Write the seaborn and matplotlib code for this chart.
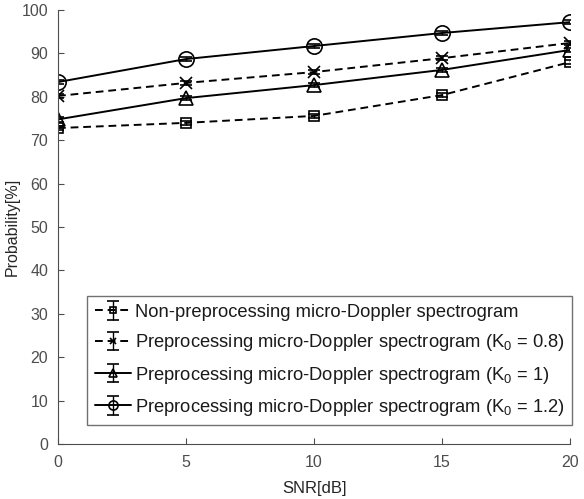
import numpy as np
import pandas as pd
import seaborn as sns
import matplotlib
matplotlib.use("Agg")
import matplotlib.pyplot as plt

snr = [0, 5, 10, 15, 20]
non_pre = [72.8, 74.0, 75.6, 80.4, 88.0]
pre_08 = [80.2, 83.2, 85.7, 88.9, 92.4]
pre_1 = [74.8, 79.7, 82.7, 86.2, 90.8]
pre_12 = [83.4, 88.7, 91.7, 94.7, 97.2]
err = [0.5, 0.5, 0.5, 0.5, 0.5]

labels = [
    "Non-preprocessing micro-Doppler spectrogram",
    "Preprocessing micro-Doppler spectrogram (K$_0$ = 0.8)",
    "Preprocessing micro-Doppler spectrogram (K$_0$ = 1)",
    "Preprocessing micro-Doppler spectrogram (K$_0$ = 1.2)",
]

sns.set_style("ticks")
plt.rcParams['font.family'] = ['Liberation Sans', 'DejaVu Sans']
plt.rcParams['mathtext.fontset'] = 'custom'
plt.rcParams['mathtext.rm'] = 'Liberation Sans'
plt.rcParams['mathtext.it'] = 'Liberation Sans'

fig = plt.figure(figsize=(5.84, 4.99), dpi=100)
ax = fig.add_axes([0.0993, 0.110, 0.877, 0.870])

series = [
    (non_pre, "s", (0, (4, 2.5)), 7),
    (pre_08, "x", (0, (4, 2.5)), 8),
    (pre_1, "^", "-", 10),
    (pre_12, "o", "-", 11),
]
for (vals, mk, ls, ms), lab in zip(series, labels):
    ax.errorbar(snr, vals, yerr=err, color="black", linestyle=ls, linewidth=1.4,
                marker=mk, markersize=ms, markerfacecolor="none", markeredgecolor="black",
                markeredgewidth=1.2, capsize=4, elinewidth=1, label=lab)

ax.set_xlim(0, 20)
ax.set_ylim(0, 100)
ax.set_xticks([0, 5, 10, 15, 20])
ax.set_yticks(range(0, 101, 10))
ax.tick_params(direction="in", length=4, labelsize=11.5, colors="#4d4d4d", labelcolor="#4d4d4d")
ax.tick_params(axis="x", pad=8)
ax.tick_params(axis="y", pad=7)
ax.set_xlabel("SNR[dB]", fontsize=12, color="#262626", labelpad=8)
ax.set_ylabel("Probability[%]", fontsize=11.5, color="#262626")
ax.yaxis.set_label_coords(-0.074, 0.5)
for s in ["top", "right"]:
    ax.spines[s].set_visible(False)
for s in ["left", "bottom"]:
    ax.spines[s].set_color("#4d4d4d")

leg = ax.legend(loc="lower left", bbox_to_anchor=(0.05, 0.035), fontsize=13.2, frameon=True,
                fancybox=False, edgecolor="#4d4d4d", handlelength=2.0, borderpad=0.4,
                labelspacing=0.62, handletextpad=0.2, markerscale=0.6, borderaxespad=0.2)
leg.get_frame().set_linewidth(1.0)
for t in leg.get_texts():
    t.set_color("#1a1a1a")

fig.savefig("out.png", dpi=100)
